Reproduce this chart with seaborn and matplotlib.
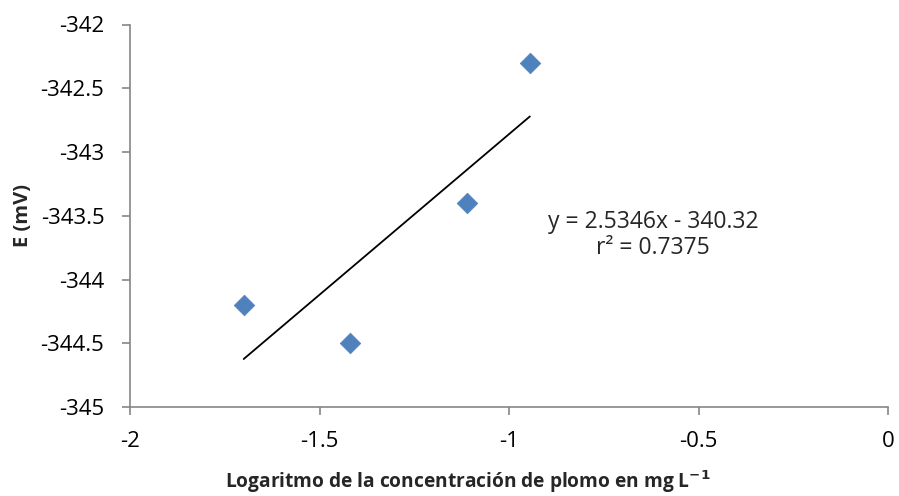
import matplotlib
matplotlib.use("Agg")
import matplotlib.pyplot as plt
import seaborn as sns
import numpy as np
import pandas as pd

log_conc = [-1.70, -1.42, -1.11, -0.945]
potential = [-344.2, -344.5, -343.4, -342.3]
eq_text = "y = 2.5346x - 340.32\nr² = 0.7375"
x_ticks = [-2, -1.5, -1, -0.5, 0]
x_tick_labels = ["-2", "-1.5", "-1", "-0.5", "0"]
y_ticks = [-345, -344.5, -344, -343.5, -343, -342.5, -342]
y_tick_labels = ["-345", "-344.5", "-344", "-343.5", "-343", "-342.5", "-342"]

sns.set_theme(style="white")
plt.rcParams['font.family'] = ['Open Sans', 'DejaVu Sans']

df = pd.DataFrame({"x": log_conc, "y": potential})

fig = plt.figure(figsize=(8.99, 4.96), dpi=100)
ax = fig.add_axes([130/899, 1 - 407/496, (888-130)/899, (407-24.5)/496])

sns.regplot(data=df, x="x", y="y", ax=ax, ci=None, truncate=True,
            marker="D", scatter_kws=dict(s=110, color="#4F81BD", edgecolor="#4F81BD",
                                         linewidths=0.5, alpha=1, zorder=3),
            line_kws=dict(color="black", lw=1.3, zorder=2))

ax.set_xlim(-2, 0)
ax.set_ylim(-345, -342)
ax.set_xticks(x_ticks)
ax.set_xticklabels(x_tick_labels)
ax.set_yticks(y_ticks)
ax.set_yticklabels(y_tick_labels)

for s in ["top", "right"]:
    ax.spines[s].set_visible(False)
for s in ["left", "bottom"]:
    ax.spines[s].set_color("#868686")
    ax.spines[s].set_linewidth(1.2)
ax.tick_params(axis="both", which="both", direction="out", length=5.5, width=1.2,
               color="#868686", labelsize=16, labelcolor="black",
               bottom=True, left=True)
ax.tick_params(axis="x", pad=12)
ax.tick_params(axis="y", pad=13)

ax.set_xlabel("Logaritmo de la concentración de plomo en mg L$^{\\mathbf{-1}}$",
              fontsize=13.8, fontweight="bold", va="center")
ax.xaxis.set_label_coords(0.446, (407 - 482) / 382.5)
ax.set_ylabel("E (mV)", fontsize=14.5, fontweight="bold", va="center")
ax.yaxis.set_label_coords((23 - 130) / 758, 0.5)

ax.text(-0.62, -343.65, eq_text, ha="center", va="center", fontsize=16.5,
        linespacing=1.15)

fig.savefig("out.png", dpi=100)
